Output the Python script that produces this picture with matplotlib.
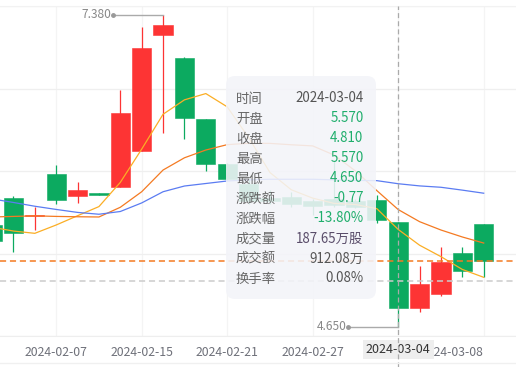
import numpy as np
import matplotlib
matplotlib.use('Agg')
import matplotlib.pyplot as plt
from matplotlib.patches import FancyBboxPatch
from matplotlib.transforms import Affine2D, offset_copy

plt.rcParams['font.family'] = ['Noto Sans CJK SC', 'DejaVu Sans']

# 日K数据 (2024-02-02 ~ 2024-03-08)
dates = ['2024-02-02', '2024-02-05', '2024-02-06', '2024-02-07', '2024-02-08', '2024-02-09',
         '2024-02-14', '2024-02-15', '2024-02-16', '2024-02-19', '2024-02-20', '2024-02-21',
         '2024-02-22', '2024-02-23', '2024-02-26', '2024-02-27', '2024-02-28', '2024-02-29',
         '2024-03-01', '2024-03-04', '2024-03-05', '2024-03-06', '2024-03-07', '2024-03-08']
opens = [5.54, 5.78, 5.615, 5.99, 5.795, 5.823, 5.87, 6.19, 7.20, 7.00, 6.467, 6.074,
         5.90, 5.78, 5.788, 5.753, 5.768, 5.753, 5.755, 5.57, 4.816, 4.934, 5.292, 5.546]
closes = [5.403, 5.467, 5.63, 5.759, 5.846, 5.805, 6.523, 7.086, 7.287, 6.476, 6.076, 5.945,
          5.748, 5.752, 5.721, 5.709, 5.715, 5.70, 5.58, 4.81, 5.021, 5.214, 5.138, 5.225]
highs = [5.58, 5.79, 5.695, 6.065, 5.916, 5.823, 6.721, 7.27, 7.38, 7.007, 6.467, 6.08,
         5.95, 5.85, 5.832, 5.77, 6.10, 5.77, 5.803, 5.57, 5.181, 5.345, 5.35, 5.546]
lows = [5.38, 5.306, 5.496, 5.724, 5.735, 5.805, 5.87, 6.188, 6.348, 6.29, 6.015, 5.93,
        5.72, 5.72, 5.70, 5.628, 5.70, 5.69, 5.555, 4.65, 4.782, 4.919, 5.083, 5.083]
ma5 = [5.52, 5.487, 5.467, 5.54, 5.621, 5.701, 5.913, 6.204, 6.509, 6.635, 6.690, 6.574,
       6.306, 5.999, 5.848, 5.775, 5.729, 5.719, 5.683, 5.501, 5.363, 5.263, 5.151, 5.082]
ma10 = [5.61, 5.615, 5.62, 5.615, 5.612, 5.61, 5.695, 5.831, 6.021, 6.128, 6.196, 6.243,
        6.255, 6.254, 6.242, 6.232, 6.152, 6.013, 5.841, 5.675, 5.569, 5.496, 5.435, 5.382]
ma20 = [5.768, 5.737, 5.704, 5.676, 5.650, 5.634, 5.658, 5.733, 5.831, 5.881, 5.903, 5.925,
        5.935, 5.94, 5.94, 5.94, 5.935, 5.93, 5.928, 5.901, 5.882, 5.870, 5.845, 5.818]

# 提示框 (选中 2024-03-04)
sel = '2024-03-04'
sel_vol = 187.65      # 万股
sel_amount = 912.08   # 万
sel_turnover = 0.08   # %
cross_price = 5.05

RED = '#fd3434'
GREEN = '#0caa60'

W, H = 516, 367
fig = plt.figure(figsize=(W / 100, H / 100), dpi=100)
ax = fig.add_axes([0, 31 / H, 1, 330 / H])

x = np.arange(len(dates))
o = np.array(opens); c = np.array(closes)
hi = np.array(highs); lo = np.array(lows)
up = c >= o
cols = np.where(up, RED, GREEN)

ax.vlines(x, lo, hi, colors=cols, lw=0.9, zorder=2)
body_lo = np.minimum(o, c)
body_h = np.maximum(np.abs(c - o), 0.012)
ax.bar(x, body_h, bottom=body_lo, width=0.9, color=cols, edgecolor=cols, lw=0.4, zorder=3)

ax.plot(x, ma5, color='#fbae25', lw=0.9, zorder=4)
ax.plot(x, ma10, color='#f47a22', lw=0.9, zorder=4)
ax.plot(x, ma20, color='#5b7cf2', lw=0.9, zorder=4)

ylo, yhi = 4.5685, 7.4563
ax.set_ylim(ylo, yhi)
ax.set_xlim(0.371, 24.511)
ax.set_yticks(np.linspace(ylo, yhi, 5))
ax.set_yticklabels([])
ax.tick_params(axis='y', length=0)
ax.grid(axis='y', color='#efefef', lw=0.9, zorder=0)

si = dates.index(sel)
tick_idx = list(range(3, len(dates), 4))
ax.set_xticks(tick_idx)
# 选中日期的刻度标签由十字光标标签代替
ax.set_xticklabels(['' if i == si else dates[i] for i in tick_idx], fontsize=8.8, color='#6e7079')
ax.tick_params(axis='x', length=0, pad=7)
ax.xaxis.get_ticklabels()[-1].set_ha('right')
ax.grid(axis='x', color='#f4f4f4', lw=0.9, zorder=0)
for s in ['left', 'right']:
    ax.spines[s].set_visible(False)
ax.spines['top'].set_color('#f2f2f2')
ax.spines['bottom'].set_color('#eeeeee')

# 最新价 / 十字光标
ax.axhline(closes[-1], color='#f47a22', lw=1.1, ls=(0, (4, 2.5)), zorder=5)
ax.axhline(cross_price, color='#cccccc', lw=1.1, ls=(0, (4, 2.5)), zorder=5)
ax.axvline(si, ymin=-0.095, ymax=1, color='#aaaaaa', lw=0.9, ls=(0, (4, 2.5)),
           clip_on=False, zorder=6)
ax.text(si, ylo - 0.06, sel, ha='center', va='top', fontsize=9,
        color='#333333', zorder=5, clip_on=False,
        bbox=dict(boxstyle='square,pad=0.25', fc='#eeeeee', ec='none'))

# 最高 / 最低 标记
for idx, val in [(int(np.argmax(hi)), hi.max()), (int(np.argmin(lo)), lo.min())]:
    ax.plot([idx, idx - 50 / 21.375], [val, val], color='#aaaaaa', lw=1, zorder=6)
    tr = offset_copy(ax.transData, fig=fig, x=-50, y=0, units='dots')
    ax.plot(idx, val, 'o', ms=2.5, color='#999999', transform=tr, zorder=6)
    tr2 = offset_copy(ax.transData, fig=fig, x=-52, y=0, units='dots')
    ax.text(idx, val, f'{val:.3f}', transform=tr2, ha='right', va='center',
            fontsize=8.6, color='#888888', zorder=6)

# 底部分隔线
fig.add_artist(plt.Line2D([0, 1], [4 / H, 4 / H], color='#f0f0f0', lw=1))

# 提示框
px = Affine2D().scale(1 / fig.dpi) + fig.dpi_scale_trans
box = FancyBboxPatch((226, H - 299), 150, 223, boxstyle='round,pad=0,rounding_size=9',
                     transform=px, fc='#f3f4f9', ec='none', alpha=0.88, zorder=10)
fig.add_artist(box)

prev_close = closes[si - 1]
chg = closes[si] - prev_close
pct = chg / prev_close * 100
rows = [('时间', sel, '#555555'),
        ('开盘', f'{opens[si]:.3f}', '#1fae6c'),
        ('收盘', f'{closes[si]:.3f}', '#1fae6c'),
        ('最高', f'{highs[si]:.3f}', '#1fae6c'),
        ('最低', f'{lows[si]:.3f}', '#1fae6c'),
        ('涨跌额', f'{chg:.2f}', '#1fae6c'),
        ('涨跌幅', f'{pct:.2f}%', '#1fae6c'),
        ('成交量', f'{sel_vol:.2f}万股', '#5a4d6a'),
        ('成交额', f'{sel_amount:.2f}万', '#555555'),
        ('换手率', f'{sel_turnover:.2f}%', '#555555')]
for k, (lab, val, col) in enumerate(rows):
    yy = H - (98.5 + 20 * k)
    fig.text(236, yy, lab, transform=px, ha='left', va='center', fontsize=9.6,
             color='#666666', zorder=11)
    fig.text(363.5, yy, val, transform=px, ha='right', va='center', fontsize=9.6,
             color=col, zorder=11)

fig.savefig('out.png', dpi=100)
